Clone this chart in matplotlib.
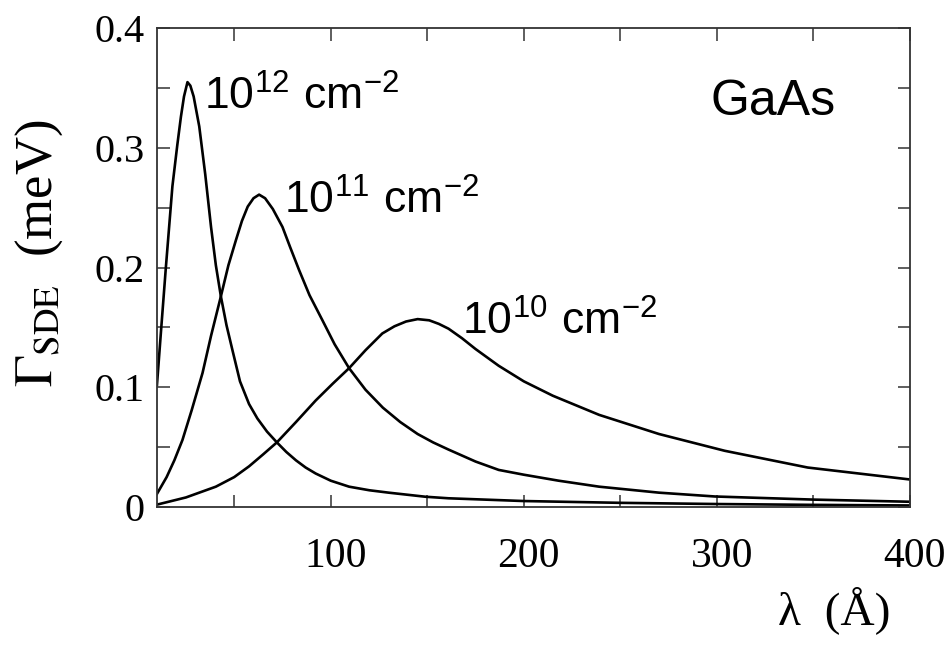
import numpy as np
import matplotlib
matplotlib.use('Agg')
import matplotlib.pyplot as plt
import matplotlib.transforms as mtransforms

# values: wavelength (Angstrom) and Gamma_SDE (meV)
lam_1e12 = [10, 12, 14.6, 18, 20.5, 22.4, 24, 25.8, 27.3, 29, 31.9, 35, 38, 40.5, 43.1, 46,
            49.1, 53, 57.7, 62, 67, 72.1, 77, 82, 87, 92.2, 100, 109.5, 120, 130, 149, 161,
            200, 250, 300, 350, 400]
gam_1e12 = [0.102, 0.145, 0.2, 0.268, 0.302, 0.326, 0.343, 0.355, 0.352, 0.343, 0.318, 0.278,
            0.234, 0.202, 0.176, 0.152, 0.131, 0.105, 0.086, 0.074, 0.063, 0.054, 0.046,
            0.039, 0.033, 0.028, 0.022, 0.017, 0.014, 0.012, 0.0086, 0.0073, 0.005, 0.0035,
            0.0025, 0.0018, 0.0013]

lam_1e11 = [10, 15, 19, 23.2, 28, 33.6, 38, 43.1, 47, 50.9, 54, 57, 60, 62.9, 66, 70, 75,
            79, 83.6, 89, 95.7, 102, 109.5, 118, 127, 136, 145, 153, 161, 175, 187, 200, 218,
            239, 270, 299, 350, 400]
gam_1e11 = [0.011, 0.025, 0.039, 0.056, 0.081, 0.112, 0.143, 0.176, 0.202, 0.223, 0.239,
            0.251, 0.258, 0.261, 0.258, 0.249, 0.234, 0.217, 0.198, 0.177, 0.156, 0.136,
            0.116, 0.098, 0.083, 0.071, 0.061, 0.054, 0.048, 0.038, 0.031, 0.027, 0.022,
            0.017, 0.012, 0.0088, 0.0062, 0.0044]

lam_1e10 = [10, 25, 40.5, 50, 57.7, 65, 72.1, 82, 92.2, 101, 109.5, 118, 126.7, 133, 139,
            145, 151, 156, 161, 168, 175, 187, 200, 215, 239, 270, 304, 347, 400]
gam_1e10 = [0.002, 0.008, 0.017, 0.025, 0.034, 0.044, 0.054, 0.071, 0.089, 0.103, 0.116,
            0.131, 0.145, 0.151, 0.155, 0.157, 0.156, 0.153, 0.149, 0.141, 0.132, 0.118,
            0.105, 0.093, 0.077, 0.061, 0.047, 0.033, 0.023]

curve_labels = [r'10$^{\mathregular{12}}$ cm$^{\mathregular{-2}}$',
                r'10$^{\mathregular{11}}$ cm$^{\mathregular{-2}}$',
                r'10$^{\mathregular{10}}$ cm$^{\mathregular{-2}}$']
label_pos = [(34.5, 0.333), (75.8, 0.246), (167.9, 0.145)]

x_ticks = [100, 200, 300, 400]
x_minor = [50, 150, 250, 350]
y_ticks = [0, 0.1, 0.2, 0.3, 0.4]
y_tick_labels = ['0', '0.1', '0.2', '0.3', '0.4']
y_minor = [0.05, 0.15, 0.25, 0.35]

plt.rcParams['mathtext.fontset'] = 'stix'

fig = plt.figure(figsize=(9.49, 6.56), dpi=100)
ax = fig.add_axes([0.1654, 0.2271, 0.7935, 0.7298])

for lam, gam in [(lam_1e12, gam_1e12), (lam_1e11, gam_1e11), (lam_1e10, gam_1e10)]:
    ax.plot(lam, gam, color='black', lw=1.9, solid_joinstyle='round')

ax.set_xlim(10, 400)
ax.set_ylim(0, 0.4)

ax.set_xticks(x_ticks)
ax.set_xticks(x_minor, minor=True)
ax.set_yticks(y_ticks)
ax.set_yticks(y_minor, minor=True)
ax.set_yticklabels(y_tick_labels)

for which in ['major', 'minor']:
    ax.tick_params(axis='both', which=which, direction='in', length=9, width=1.1,
                   color='#333333', top=True, right=True)
ax.tick_params(axis='x', which='major', labelsize=30, pad=22)
ax.tick_params(axis='y', which='major', labelsize=29, pad=9)

for lbl in ax.get_xticklabels() + ax.get_yticklabels():
    lbl.set_family('Liberation Serif')

# the tick labels sit a little right of their ticks in the original
shift = mtransforms.ScaledTranslation(5 / 100, 0, fig.dpi_scale_trans)
for lbl in ax.get_xticklabels():
    lbl.set_transform(lbl.get_transform() + shift)

for sp in ax.spines.values():
    sp.set_linewidth(1.3)
    sp.set_color('#333333')

ax.set_ylabel(r'$\Gamma_{\rm SDE}$  (meV)', fontsize=38, family='Liberation Serif')
ax.yaxis.set_label_coords(-0.122, 0.53)

ax.set_xlabel('λ  (Å)', fontsize=34, family='Liberation Serif')
ax.xaxis.set_label_coords(0.9, -0.165)

for text, (x, y) in zip(curve_labels, label_pos):
    ax.text(x, y, text, fontsize=32, family='Liberation Sans', va='baseline', ha='left')

ax.text(296.7, 0.3276, 'GaAs', fontsize=36, family='Liberation Sans', va='baseline', ha='left')

plt.savefig('out.png', dpi=100)
